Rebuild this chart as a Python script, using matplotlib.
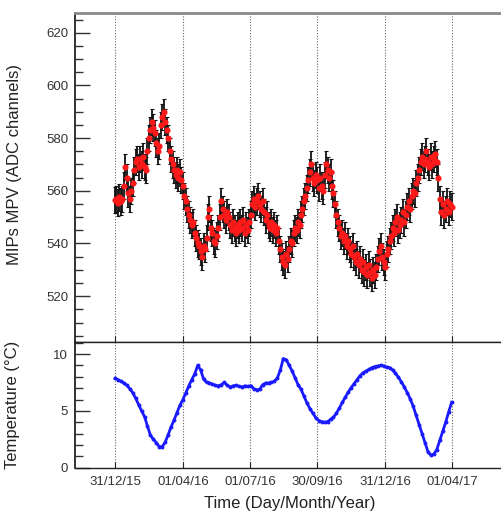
import numpy as np
import matplotlib
matplotlib.use("Agg")
import matplotlib.pyplot as plt
import matplotlib.dates as mdates
from matplotlib.ticker import MultipleLocator

plt.rcParams["font.family"] = ["Liberation Sans", "DejaVu Sans"]

# --- data -----------------------------------------------------------------
start_date = np.datetime64("2015-12-31")

# MIPs most probable value, one measurement every 2 days from 31/12/15
mpv_step_days = 2
mpv = [
    556.5, 557, 555.5, 557.5, 556, 557, 562, 569, 565, 559,
    557, 560, 563, 568, 571, 572, 569, 572, 570, 573,
    569, 568, 575, 580, 583, 586, 584, 582, 578, 575,
    577, 585, 588, 590, 586, 583, 580, 575, 572, 570,
    568, 566, 568, 565, 567, 564, 562, 558, 556, 553,
    551, 549, 547, 548, 544, 542, 540, 539, 537, 535,
    539, 538, 542, 550, 553, 546, 544, 541, 540, 543,
    546, 550, 556, 553, 551, 549, 552, 550, 547, 545,
    548, 546, 544, 547, 545, 548, 546, 549, 544, 547,
    545, 548, 551, 555, 557, 554, 556, 558, 555, 553,
    556, 552, 549, 551, 547, 546, 548, 545, 547, 544,
    546, 541, 538, 535, 533, 532, 536, 534, 538, 541,
    540, 544, 546, 545, 548, 547, 551, 553, 556, 558,
    561, 564, 567, 570, 565, 563, 566, 564, 561, 565,
    562, 560, 566, 570, 568, 565, 567, 562, 559, 555,
    551, 548, 546, 543, 544, 541, 543, 539, 541, 538,
    536, 539, 535, 533, 536, 532, 534, 530, 533, 529,
    531, 528, 532, 529, 527, 530, 528, 531, 534, 537,
    539, 535, 533, 531, 536, 538, 541, 543, 546, 544,
    548, 550, 545, 547, 549, 552, 548, 551, 554, 556,
    553, 558, 560, 559, 563, 565, 568, 571, 573, 570,
    572, 575, 571, 569, 573, 570, 572, 574, 571, 565,
    557, 552, 555, 551, 553, 556, 552, 555, 554,
]
mpv_err = 5.0

# Temperature, one reading every 4 days from 31/12/15
temp_step_days = 4
temperature = [
    7.85, 7.75, 7.6, 7.45, 7.25, 6.95, 6.6, 6.1, 5.55, 5.0,
    4.5, 3.65, 2.85, 2.5, 2.2, 1.85, 1.85, 2.25, 2.9, 3.6,
    4.2, 4.85, 5.5, 6.0, 6.6, 7.2, 7.75, 8.25, 9.0, 8.6,
    7.8, 7.5, 7.45, 7.35, 7.25, 7.2, 7.3, 7.5, 7.25, 7.1,
    7.2, 7.25, 7.15, 7.1, 7.2, 7.15, 7.2, 6.95, 6.85, 6.9,
    7.3, 7.45, 7.45, 7.5, 7.6, 7.9, 8.6, 9.6, 9.5, 9.0,
    8.5, 7.9, 7.3, 6.9, 6.3, 5.7, 5.2, 4.8, 4.4, 4.15,
    4.05, 4.0, 4.05, 4.25, 4.45, 4.8, 5.25, 5.75, 6.2, 6.65,
    7.05, 7.4, 7.75, 8.1, 8.35, 8.5, 8.65, 8.8, 8.9, 8.95,
    9.0, 8.95, 8.85, 8.8, 8.6, 8.3, 7.95, 7.55, 7.1, 6.6,
    6.05, 5.4, 4.6, 3.8, 3.0, 2.2, 1.4, 1.1, 1.2, 1.6,
    2.4, 3.2, 4.0, 4.9, 5.75,
]

tick_dates = ["2015-12-31", "2016-04-01", "2016-07-01",
              "2016-09-30", "2016-12-31", "2017-04-01"]


def to_num(step, n):
    days = (np.arange(n) * step).astype("timedelta64[D]")
    return mdates.date2num(start_date + days)


mpv_x = to_num(mpv_step_days, len(mpv))
temp_x = to_num(temp_step_days, len(temperature))
tick_x = mdates.date2num(np.array(tick_dates, dtype="datetime64[D]"))
t0 = mdates.date2num(start_date)
xlim = (t0 - 54.2, t0 + 527.0)

# --- figure ---------------------------------------------------------------
W, H = 501, 512
fig = plt.figure(figsize=(W / 100, H / 100), dpi=100)
left = 75 / W
width = 429 / W
ax1 = fig.add_axes([left, (H - 342) / H, width, (342 - 13) / H])
ax2 = fig.add_axes([left, (H - 467.7) / H, width, (467.7 - 342) / H])

ax1.errorbar(mpv_x, mpv, yerr=mpv_err, fmt="none", ecolor="#111111",
             elinewidth=1.3, capsize=1.5, capthick=0.8, zorder=2)
ax1.plot(mpv_x, mpv, "o", color="#ff1a1a", ms=3.4, mec="#ff1a1a", zorder=3)

ax2.plot(temp_x, temperature, "-", color="#1a1aff", lw=2.0, zorder=3)
ax2.plot(temp_x, temperature, "o", color="#1a1aff", ms=1.8, zorder=3)

ax1.set_ylim(502.6, 627.5)
ax2.set_ylim(0, 11.06)

for ax in (ax1, ax2):
    ax.set_xlim(*xlim)
    ax.set_xticks(tick_x)
    for xv in tick_x:
        ax.axvline(xv, color="#666666", lw=0.8, ls=(0, (1, 1.5)), zorder=1)
    ax.tick_params(axis="x", direction="in", length=4, width=0.8,
                   colors="#222222", labelsize=9.5, pad=6)
    ax.tick_params(axis="y", which="major", direction="in", length=11,
                   width=1.0, colors="#333333", labelsize=9.5, pad=5)
    ax.tick_params(axis="y", which="minor", direction="in", length=6,
                   width=1.0, colors="#333333")
    ax.spines["right"].set_visible(False)
    ax.spines["left"].set_color("#111111")
    ax.spines["left"].set_linewidth(1.2)
    ax.spines["bottom"].set_color("#222222")
    ax.spines["bottom"].set_linewidth(1.0)

ax1.spines["top"].set_color("#8a8a8a")
ax1.spines["top"].set_linewidth(2.0)
ax2.spines["top"].set_color("#222222")
ax2.spines["top"].set_linewidth(1.0)

ax1.yaxis.set_major_locator(MultipleLocator(20))
ax1.yaxis.set_minor_locator(MultipleLocator(5))
ax1.set_yticks([520, 540, 560, 580, 600, 620])
ax1.tick_params(axis="x", labelbottom=False)

ax2.yaxis.set_major_locator(MultipleLocator(5))
ax2.yaxis.set_minor_locator(MultipleLocator(1))
ax2.xaxis.set_major_formatter(mdates.DateFormatter("%d/%m/%y"))

for lbl in ax1.get_yticklabels() + ax2.get_yticklabels() + ax2.get_xticklabels():
    lbl.set_color("#333333")

ax1.set_ylabel("MIPs MPV (ADC channels)", fontsize=12, color="#222222")
ax1.yaxis.set_label_coords(-53 / 429, 0.538)
ax2.set_ylabel("Temperature (\u00b0C)", fontsize=12, color="#222222")
ax2.yaxis.set_label_coords(-55 / 429, 0.5)
ax2.set_xlabel("Time (Day/Month/Year)", fontsize=12, color="#222222")
ax2.xaxis.set_label_coords(0.5, -(496 - 467.7) / (467.7 - 342))

fig.savefig("out.png", dpi=100, facecolor="white")
